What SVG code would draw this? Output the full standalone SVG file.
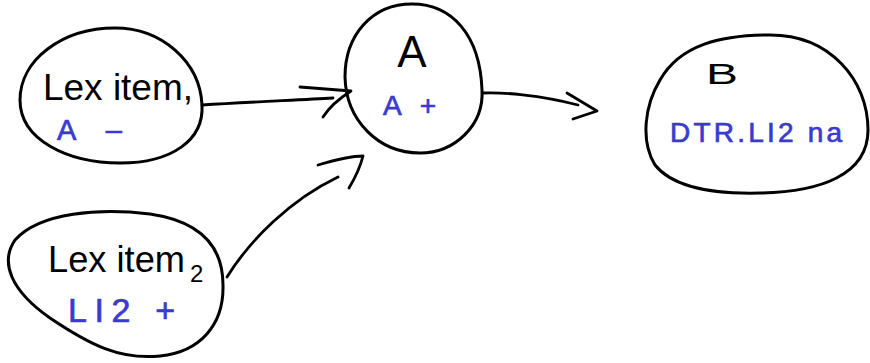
<svg xmlns="http://www.w3.org/2000/svg" width="870" height="363" viewBox="0 0 870 363">
<style>
.node{fill:none;stroke:#000;stroke-width:3;stroke-linecap:round;stroke-linejoin:round}
.edge{fill:none;stroke:#000;stroke-width:2.8;stroke-linecap:round;stroke-linejoin:round}
.bk{font-family:"Liberation Sans",Arial,sans-serif;fill:#000}
.bl{font-family:"Liberation Sans",Arial,sans-serif;fill:#3a3ad2;stroke:#3a3ad2;stroke-width:0.7}
</style>
<rect width="870" height="363" fill="#fff"/>
<g id="node-lex1">
<path class="node" d="M 202 105 C 200 62, 162 28, 115 28 C 62 28, 20 60, 20 100 C 20 140, 68 163, 120 163 C 172 163, 204 140, 202 105 Z"/>
<text class="bk" x="43" y="100" font-size="36" textLength="150" lengthAdjust="spacingAndGlyphs">Lex item,</text>
<text class="bl" x="57" y="140" font-size="29" textLength="65" lengthAdjust="spacing">A –</text>
</g>
<g id="node-lex2">
<path class="node" d="M 223 285 C 223 250, 205 222, 150 214 C 100 208, 40 212, 15 240 C 0 262, 10 290, 50 318 C 90 345, 120 360, 160 356 C 200 352, 224 325, 223 285 Z"/>
<text class="bk" x="48" y="272" font-size="36" textLength="137" lengthAdjust="spacingAndGlyphs">Lex item</text>
<text class="bk" x="190" y="282" font-size="24">2</text>
<text class="bl" x="68" y="322" font-size="34" textLength="107" lengthAdjust="spacing">LI2 +</text>
</g>
<g id="node-A">
<path class="node" d="M 345 77 C 345 35, 372 4, 412 4 C 452 4, 480 35, 482 90 C 484 125, 455 153, 420 153 C 378 153, 346 120, 345 77 Z"/>
<text class="bk" x="412" y="67" font-size="44" text-anchor="middle">A</text>
<text class="bl" x="383" y="115" font-size="28" textLength="53" lengthAdjust="spacing">A +</text>
</g>
<g id="node-B">
<path class="node" d="M 868 130 C 868 80, 830 35, 770 35 C 720 35, 680 45, 660 80 C 645 105, 640 140, 655 165 C 675 190, 720 194, 760 193 C 820 192, 868 175, 868 130 Z"/>
<text class="bk" x="706" y="84" font-size="30" textLength="32" lengthAdjust="spacingAndGlyphs">B</text>
<text class="bl" x="670" y="142" font-size="28" textLength="172" lengthAdjust="spacing">DTR.LI2 na</text>
</g>
<g id="connectors">
<path class="edge" d="M 202 105 C 250 102, 300 100, 333 98"/>
<path class="edge" d="M 300 87 L 351 91 C 340 98, 330 106, 323 117"/>
<path class="edge" d="M 227 277 C 250 240, 290 200, 338 177"/>
<path class="edge" d="M 318 165 C 335 160, 350 156, 363 156 C 360 168, 355 178, 349 188"/>
<path class="edge" d="M 483 93 C 500 92, 540 95, 578 105"/>
<path class="edge" d="M 567 93 L 597 111 L 573 119"/>
</g>
</svg>
